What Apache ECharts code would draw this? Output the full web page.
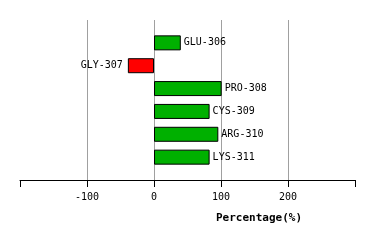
<!DOCTYPE html>
<html><head><meta charset="utf-8">
<script src="https://cdn.jsdelivr.net/npm/echarts@6/dist/echarts.min.js"></script>
<style>html,body{margin:0;padding:0;background:#fff}#c{width:374px;height:240px}</style>
</head><body><div id="c"></div>
<script>
const categories = ['GLU-306','GLY-307','PRO-308','CYS-309','ARG-310','LYS-311'];
const values = [40, -39, 101, 83, 96, 83];
const xTicks = [-100, 0, 100, 200];
const axisTitle = 'Percentage(%)';

const font = 'DejaVu Sans Mono';
// pad one empty slot above and below so bands match the reference spacing
const yCats = [''].concat(categories, ['']);
const chart = echarts.init(document.getElementById('c'), null, {renderer:'canvas'});
chart.setOption({
  animation:false,
  grid:{left:20, right:19, top:20, bottom:60},
  title:{text:axisTitle, left:254, top:208, textAlign:'center',
    textStyle:{fontFamily:font, fontSize:11, fontWeight:'bold', color:'#000'}},
  xAxis:{type:'value', min:-200, max:300, interval:100,
    axisLine:{show:true, onZero:false, lineStyle:{color:'#000', width:1}},
    axisTick:{show:true, length:7, lineStyle:{color:'#000'}},
    splitLine:{show:false},
    axisLabel:{fontFamily:font, fontSize:10, color:'#000', margin:12,
      formatter:v => xTicks.indexOf(v) >= 0 ? String(v) : ''}},
  yAxis:{type:'category', data:yCats, boundaryGap:false, inverse:true, show:false, splitLine:{show:false}},
  series:[{
    type:'bar', barWidth:15,
    data: [null].concat(values.map((v,i)=>({value:v,
      itemStyle:{color: v<0 ? '#ff0000' : '#00b000', borderColor:'#000', borderWidth:1},
      label:{show:true, position: v<0 ? 'left':'right', distance: v<0 ? 5 : 3,
        formatter: categories[i], fontFamily:font, fontSize:10, color:'#000'}})), [null]),
    markLine:{silent:true, symbol:'none', label:{show:false}, z:0,
      lineStyle:{color:'#a0a0a0', type:'solid', width:1},
      data: xTicks.map(t=>({xAxis:t}))}
  }]
});
</script></body></html>
